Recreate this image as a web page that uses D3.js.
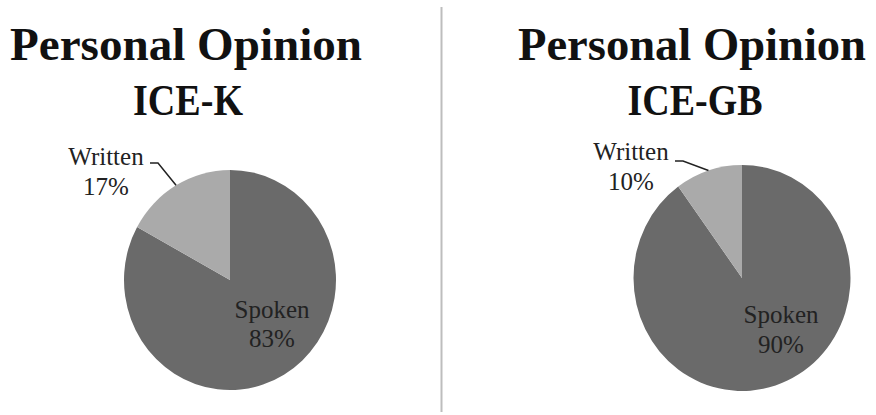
<!DOCTYPE html>
<html>
<head>
<meta charset="utf-8">
<script src="https://cdn.jsdelivr.net/npm/d3@7"></script>
<style>
  html, body { margin: 0; padding: 0; background: #fff; }
  svg { display: block; }
</style>
</head>
<body>
<svg id="chart" width="876" height="415"></svg>
<script>
// Data
const corpora = ["ICE-K", "ICE-GB"];
const categories = ["Spoken", "Written"];
const spokenShare = [83, 90];
const writtenShare = [17, 10];
const titleLine = "Personal Opinion";

const colors = d3.scaleOrdinal().domain(categories).range(["#6a6a6a", "#aaaaaa"]);

// Layout for each panel
const panels = [
  { cx: 230, cy: 280, rx: 106, ry: 110, titleX: 186, titleW: 352, ikX: 188, ikW: 110,
    spoken: [272, 318, 347], written: [106, 165, 195], elbow: [158, 163], tail: 150 },
  { cx: 742, cy: 278, rx: 108.5, ry: 113, titleX: 692, titleW: 348, ikX: 695, ikW: 135,
    spoken: [781, 323, 353], written: [631, 160, 190], elbow: [683, 161], tail: 675 }
];

const svg = d3.select("#chart");

// Divider between the two panels
svg.append("line")
  .attr("x1", 441.5).attr("x2", 441.5)
  .attr("y1", 7).attr("y2", 412)
  .attr("stroke", "#bdbdbd").attr("stroke-width", 2);

const pie = d3.pie().sort(null).value(d => d.value);
const R = 100;
const arc = d3.arc().innerRadius(0).outerRadius(R);

corpora.forEach((name, i) => {
  const p = panels[i];
  const data = [
    { key: categories[0], value: spokenShare[i] },
    { key: categories[1], value: writtenShare[i] }
  ];
  const arcs = pie(data);

  // Titles
  svg.append("text")
    .attr("x", p.titleX).attr("y", 60)
    .attr("text-anchor", "middle")
    .attr("font-family", "'Liberation Serif', 'DejaVu Serif', serif")
    .attr("font-weight", "bold").attr("font-size", 46)
    .attr("textLength", p.titleW).attr("lengthAdjust", "spacingAndGlyphs")
    .attr("fill", "#111")
    .text(titleLine);
  svg.append("text")
    .attr("x", p.ikX).attr("y", 115)
    .attr("text-anchor", "middle")
    .attr("font-family", "'Liberation Serif', 'DejaVu Serif', serif")
    .attr("font-weight", "bold").attr("font-size", 44)
    .attr("textLength", p.ikW).attr("lengthAdjust", "spacingAndGlyphs")
    .attr("fill", "#111")
    .text(name);

  // Pie slices (slightly elliptical)
  const sx = p.rx / R, sy = p.ry / R;
  const g = svg.append("g")
    .attr("transform", `translate(${p.cx},${p.cy}) scale(${sx},${sy})`);
  g.selectAll("path").data(arcs).join("path")
    .attr("d", arc)
    .attr("fill", d => colors(d.data.key));

  // Leader line for the small slice
  const w = arcs[1];
  const mid = (w.startAngle + w.endAngle) / 2;
  const ex = p.cx + Math.sin(mid) * p.rx;
  const ey = p.cy - Math.cos(mid) * p.ry;
  svg.append("path")
    .attr("d", d3.line()([[ex, ey], p.elbow, [p.tail, p.elbow[1]]]))
    .attr("fill", "none").attr("stroke", "#222").attr("stroke-width", 1.5);

  const lbl = (x, y, s) => svg.append("text")
    .attr("x", x).attr("y", y)
    .attr("text-anchor", "middle")
    .attr("font-family", "'Liberation Serif', 'DejaVu Serif', serif")
    .attr("font-size", 25)
    .attr("fill", "#222")
    .text(s);

  lbl(p.written[0], p.written[1], categories[1]);
  lbl(p.written[0], p.written[2], writtenShare[i] + "%");
  lbl(p.spoken[0], p.spoken[1], categories[0]);
  lbl(p.spoken[0], p.spoken[2], spokenShare[i] + "%");
});
</script>
</body>
</html>
